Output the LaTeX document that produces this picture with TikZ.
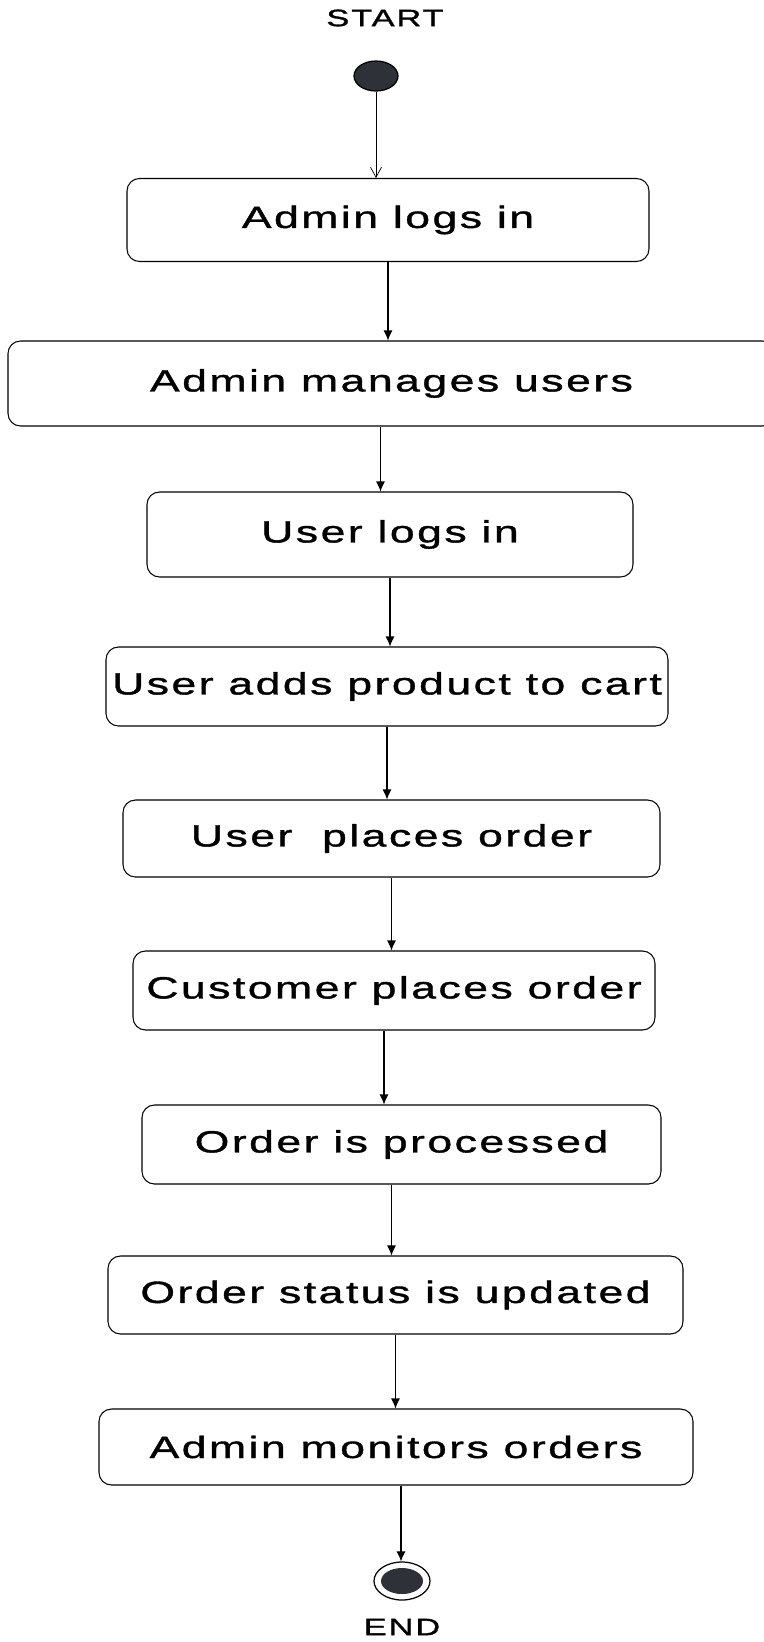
\documentclass[tikz,border=0pt]{standalone}
\usepackage{fontspec}
\setmainfont{Liberation Sans}[FakeStretch=1.45, LetterSpace=8, FakeBold=1.2]
\usetikzlibrary{shapes.geometric,arrows.meta}
\definecolor{dotgray}{HTML}{2E3138}

\begin{document}
\begin{tikzpicture}[
		actbox/.style={draw, rounded corners=0.25cm, line width=0.6pt, inner sep=0pt, align=center, font=\fontsize{17.5}{20}\selectfont},
		flow/.style={-{Latex[length=0.2cm,width=0.18cm]}, line width=0.6pt},
		endlabel/.style={font=\fontsize{13.5}{16}\selectfont}
	]
				\useasboundingbox (0,0) rectangle (15.26,-32.84);

				\node (startlabel) [endlabel] at (7.70,-0.36) {START};
				\node (startdot) [ellipse, draw, fill=dotgray, line width=0.7pt, minimum width=0.88cm, minimum height=0.6cm, inner sep=0pt] at (7.52,-1.52) {};

				\node (login) [actbox, minimum width=10.44cm, minimum height=1.66cm] at (7.76,-4.40) {Admin logs in};
				\node (manage) [actbox, minimum width=15.34cm, minimum height=1.70cm] at (7.83,-7.67) {Admin manages users};
				\node (userlogin) [actbox, minimum width=9.72cm, minimum height=1.70cm] at (7.80,-10.69) {User logs in};
				\node (addcart) [actbox, minimum width=11.24cm, minimum height=1.58cm] at (7.74,-13.73) {User adds product to cart};
				\node (userorder) [actbox, minimum width=10.74cm, minimum height=1.54cm] at (7.83,-16.77) {User\ \ places order};
				\node (custorder) [actbox, minimum width=10.44cm, minimum height=1.58cm] at (7.88,-19.81) {Customer places order};
				\node (process) [actbox, minimum width=10.38cm, minimum height=1.58cm] at (8.03,-22.89) {Order is processed};
				\node (status) [actbox, minimum width=11.50cm, minimum height=1.56cm] at (7.91,-25.90) {Order status is updated};
				\node (monitor) [actbox, minimum width=11.88cm, minimum height=1.52cm] at (7.92,-28.94) {Admin monitors orders};

				\node (enddot) [ellipse, draw, line width=0.7pt, minimum width=1.12cm, minimum height=0.76cm, inner sep=0pt,
					path picture={\fill[dotgray] (path picture bounding box.center) ellipse (0.42cm and 0.26cm);}] at (8.04,-31.62) {};
				\node (endlabel) [endlabel] at (8.04,-32.54) {END};

				\draw[-{Straight Barb[length=0.2cm,width=0.22cm]}, line width=0.4pt] (startdot.south) -- (startdot.south |- login.north);
				\draw[flow] (login.south) -- (login.south |- manage.north);
				\draw[flow] ([xshift=-0.22cm]manage.south) -- ([xshift=-0.22cm]manage.south |- userlogin.north);
				\draw[flow] (userlogin.south) -- (userlogin.south |- addcart.north);
				\draw[flow] (addcart.south) -- (addcart.south |- userorder.north);
				\draw[flow] (userorder.south) -- (userorder.south |- custorder.north);
				\draw[flow] ([xshift=-0.2cm]custorder.south) -- ([xshift=-0.2cm]custorder.south |- process.north);
				\draw[flow] ([xshift=-0.2cm]process.south) -- ([xshift=-0.2cm]process.south |- status.north);
				\draw[flow] (status.south) -- (status.south |- monitor.north);
				\draw[flow] ([xshift=0.1cm]monitor.south) -- ([xshift=0.1cm]monitor.south |- enddot.north);
\end{tikzpicture}
\end{document}
